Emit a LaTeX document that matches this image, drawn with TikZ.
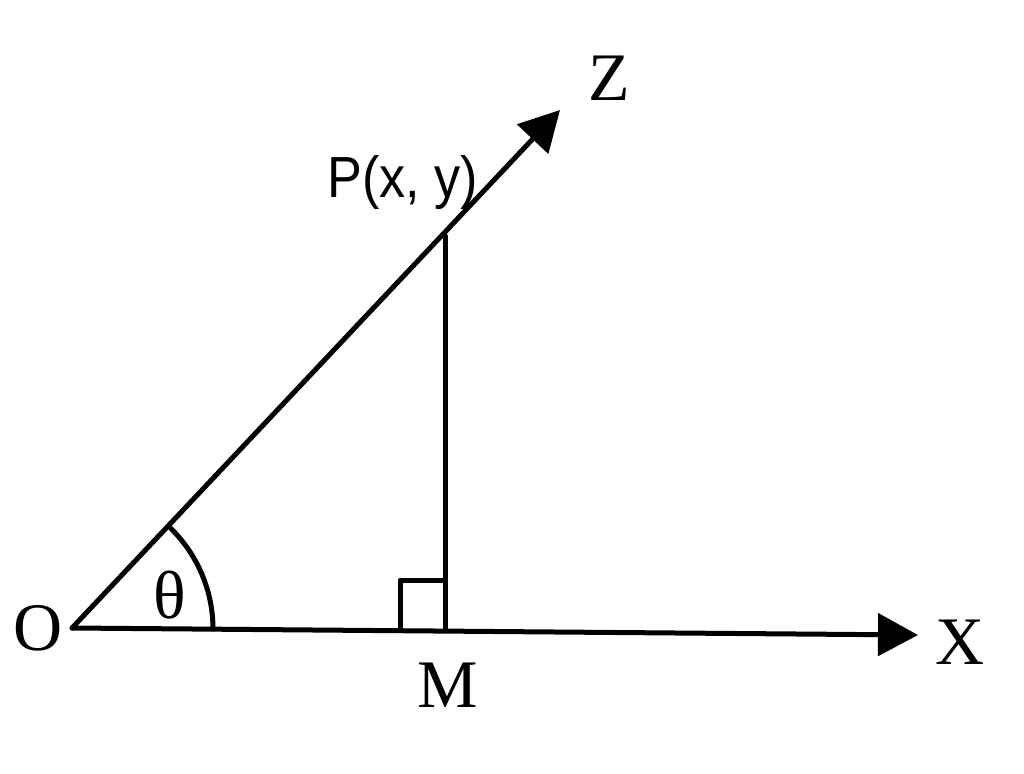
\documentclass[tikz,border=0pt]{standalone}
\usepackage{fontspec}
\setmainfont{Liberation Serif}
\newfontfamily\labsans{Liberation Sans}
\usetikzlibrary{arrows.meta}
\tikzset{
  geo/.style={line width=5pt, line cap=round, line join=round},
  axis/.style={geo, -{Triangle[length=40pt,width=42pt]}},
  lab/.style={anchor=base, inner sep=0pt, font=\fontsize{68}{80}\selectfont},
  plab/.style={anchor=base, inner sep=0pt, font=\labsans\fontsize{58}{66}\selectfont, xscale=0.9}
}
\begin{document}
\begin{tikzpicture}[x=1pt,y=-1pt]
\useasboundingbox (0,0) rectangle (1024,773);
\coordinate (O) at (72,628);
\coordinate (X) at (918,635);
\coordinate (Z) at (560,110);
\coordinate (P) at (445,236);
\coordinate (M) at (445,630);
\coordinate (S1) at (400,630);
\coordinate (S2) at (400,580);
\coordinate (S3) at (445,580);
\draw[axis] (O) -- (X);
\draw[axis] (O) -- (Z);
\draw[geo] (P) -- (M);
\draw[geo] (S1) -- (S2) -- (S3);
\draw[geo] (213,629) arc[start angle=0, end angle=-45.7, radius=141];
\node[lab] (lO) at (38,650) {O};
\node[lab] (lX) at (960,664) {X};
\node[lab] (lM) at (448,707) {M};
\node[lab] (lZ) at (609,100) {Z};
\node[lab] (lT) at (170,618) {θ};
\node[plab] (lP) at (403,197) {P(x, y)};
\end{tikzpicture}
\end{document}
